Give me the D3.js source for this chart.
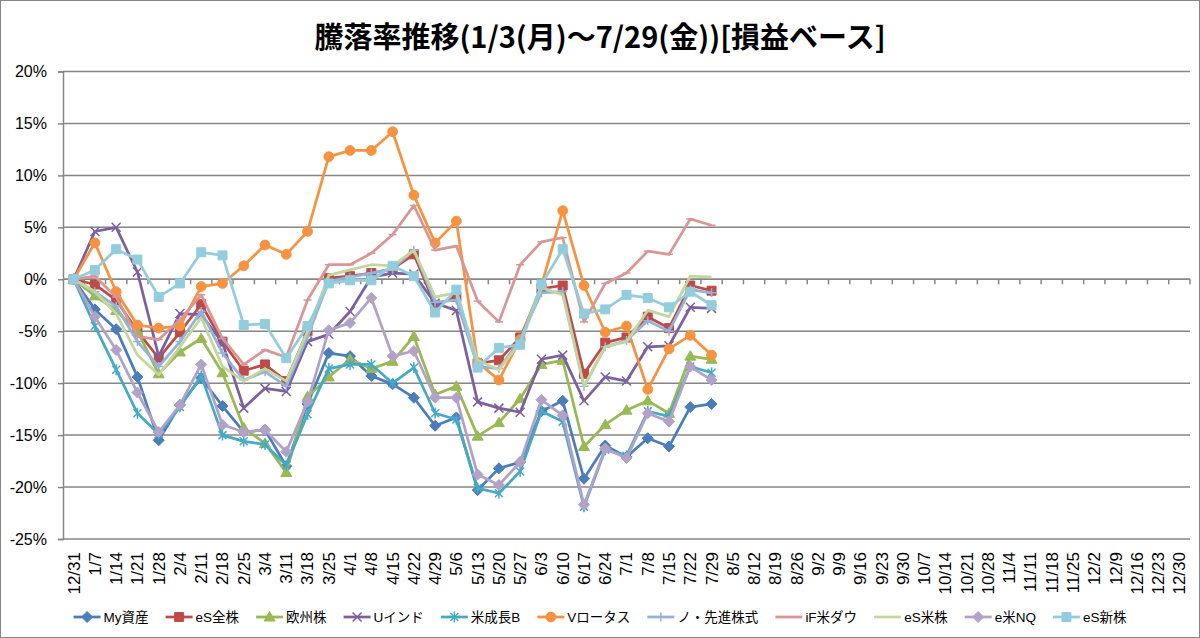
<!doctype html>
<html>

<head>
  <meta charset="utf-8">
  <title>騰落率推移</title>
  <style>
    html, body { margin: 0; padding: 0; background: #fff; }
    #chart { width: 1200px; height: 638px; }
    text { font-family: 'Liberation Sans', 'Noto Sans CJK JP', sans-serif; fill: #000; }
  </style>
</head>

<body>
  <div id="chart"></div>
  <script src="https://cdnjs.cloudflare.com/ajax/libs/d3/7.8.5/d3.min.js"></script>
  <script>
    // 週次の日付ラベル (12/31 ～ 12/30)
    const dates = ['12/31', '1/7', '1/14', '1/21', '1/28', '2/4', '2/11', '2/18', '2/25', '3/4', '3/11',
      '3/18', '3/25', '4/1', '4/8', '4/15', '4/22', '4/29', '5/6', '5/13', '5/20', '5/27', '6/3', '6/10',
      '6/17', '6/24', '7/1', '7/8', '7/15', '7/22', '7/29', '8/5', '8/12', '8/19', '8/26', '9/2', '9/9',
      '9/16', '9/23', '9/30', '10/7', '10/14', '10/21', '10/28', '11/4', '11/11', '11/18', '11/25',
      '12/2', '12/9', '12/16', '12/23', '12/30'];
    const yTicks = [-25, -20, -15, -10, -5, 0, 5, 10, 15, 20];

    // 騰落率 (%) 12/31 ～ 7/29
    const myShisan = [0, -2.9, -4.8, -9.4, -15.5, -12.1, -9.5, -12.2, -14.7, -14.5, -18.0, -12.0, -7.1, -7.4, -9.3,
      -10.1, -11.4, -14.1, -13.3, -20.3, -18.2, -17.6, -12.7, -11.7, -19.2, -16.0, -17.1, -15.3, -16.1, -12.3, -12.0];
    const esZenkabu = [0, -0.5, -2.0, -5.0, -7.6, -5.1, -2.4, -6.0, -8.8, -8.2, -9.8, -5.0, 0.1, 0.3, 0.6,
      1.0, 2.4, -2.5, -1.7, -8.1, -7.8, -5.6, -0.9, -0.6, -9.1, -6.1, -5.6, -3.6, -4.7, -0.6, -1.1];
    const oshuKabu = [0, -1.6, -3.0, -5.0, -9.1, -7.0, -5.7, -9.0, -14.3, -15.8, -18.6, -11.3, -9.4, -7.7, -8.6,
      -7.9, -5.5, -11.1, -10.3, -15.1, -13.8, -11.5, -8.2, -7.8, -16.1, -14.0, -12.6, -11.7, -12.9, -7.4, -7.7];
    const uIndo = [0, 4.6, 5.0, 0.7, -7.4, -3.3, -3.4, -6.1, -12.4, -10.5, -10.8, -6.0, -5.3, -3.1, 0.2,
      0.6, 0.5, -2.3, -3.0, -11.8, -12.4, -12.8, -7.7, -7.3, -11.7, -9.4, -9.8, -6.5, -6.4, -2.7, -2.8];
    const beiSeichoB = [0, -4.5, -8.7, -12.9, -14.9, -12.3, -9.3, -15.0, -15.6, -15.9, -17.9, -13.0, -8.6, -8.2, -8.2,
      -10.0, -8.5, -12.9, -13.5, -20.1, -20.6, -18.5, -12.7, -13.7, -21.9, -16.4, -17.0, -12.7, -13.2, -8.4, -9.0];
    const vLotus = [0, 3.5, -1.2, -4.4, -4.7, -4.5, -0.7, -0.4, 1.3, 3.3, 2.4, 4.6, 11.8, 12.4, 12.4,
      14.2, 8.1, 3.5, 5.6, -8.0, -9.7, -5.8, -0.6, 6.6, -0.6, -5.1, -4.5, -10.6, -6.7, -5.4, -7.3];
    const noSenshin = [0, -1.2, -2.6, -6.0, -8.4, -6.0, -3.1, -7.1, -9.7, -8.9, -10.3, -5.5, -0.2, 0.2, 0.6,
      1.0, 2.8, -2.2, -2.0, -8.4, -8.6, -5.8, -1.3, -1.2, -10.3, -6.5, -5.9, -4.0, -5.0, -1.0, -1.3];
    const ifDow = [0, 0.3, -1.7, -5.5, -5.8, -3.9, -1.5, -5.7, -8.2, -6.8, -7.5, -2.0, 1.4, 1.4, 2.5,
      4.3, 7.1, 2.8, 3.2, -2.1, -4.1, 1.4, 3.6, 4.0, -4.1, -0.4, 0.6, 2.7, 2.4, 5.8, 5.2];
    const esBeikabu = [0, -1.2, -3.3, -7.3, -9.2, -6.5, -3.7, -8.4, -9.8, -8.6, -9.8, -5.0, 0.4, 0.9, 1.4,
      1.3, 2.8, -1.7, -1.3, -7.8, -8.7, -6.1, -0.8, -1.5, -10.3, -6.5, -6.0, -3.0, -3.6, 0.3, 0.2];
    const eBeiNQ = [0, -3.6, -6.8, -10.9, -14.7, -12.1, -8.2, -14.0, -14.7, -14.5, -16.6, -11.8, -4.9, -4.2, -1.8,
      -7.4, -6.9, -11.4, -11.4, -18.8, -19.8, -17.6, -11.6, -13.1, -21.7, -16.3, -17.2, -12.9, -13.7, -8.4, -9.7];
    const esShinkabu = [0, 0.9, 2.9, 1.9, -1.7, -0.4, 2.6, 2.3, -4.4, -4.3, -7.6, -4.5, -0.4, -0.1, -0.1,
      1.3, 0.3, -3.2, -1.0, -8.5, -6.6, -6.3, -0.5, 2.9, -3.3, -2.9, -1.5, -1.8, -2.7, -1.2, -2.5];

    const seriesNames = ['My資産', 'eS全株', '欧州株', 'Uインド', '米成長B', 'Vロータス', 'ノ・先進株式', 'iF米ダウ', 'eS米株', 'e米NQ', 'eS新株'];
    const seriesValues = [myShisan, esZenkabu, oshuKabu, uIndo, beiSeichoB, vLotus, noSenshin, ifDow, esBeikabu, eBeiNQ, esShinkabu];
    const seriesColors = ['#4A7EBB', '#BE4B48', '#98B954', '#7D60A0', '#46AAC5', '#F69240', '#95B3D7', '#D99694', '#C3D69B', '#B3A2C7', '#93CDDD'];
    const seriesMarkers = ['diamond', 'square', 'triangle', 'x', 'star', 'circle', 'plus', 'dash', 'none', 'diamond', 'square'];

    const width = 1200;
    const height = 638;
    const plot = { left: 63, top: 71.5, right: 1190, bottom: 539 };

    const svg = d3.select('#chart').append('svg')
      .attr('width', width)
      .attr('height', height);

    // 外枠
    svg.append('rect')
      .attr('x', 0.5).attr('y', 0.5)
      .attr('width', width - 1).attr('height', height - 1)
      .attr('fill', '#fff').attr('stroke', '#868686');

    const x = d3.scaleBand().domain(dates).range([plot.left, plot.right]).padding(0);
    const y = d3.scaleLinear().domain([-25, 20]).range([plot.bottom, plot.top]);
    const cx = d => x(d) + x.bandwidth() / 2;

    // 目盛線
    svg.append('g').selectAll('line')
      .data(yTicks)
      .join('line')
      .attr('x1', plot.left).attr('x2', plot.right)
      .attr('y1', d => y(d)).attr('y2', d => y(d))
      .attr('stroke', '#868686').attr('stroke-width', 1.5);

    // 縦軸
    const yAxis = svg.append('g')
      .attr('transform', `translate(${plot.left},0)`)
      .call(d3.axisLeft(y).tickValues(yTicks).tickSize(5).tickPadding(11).tickFormat(d => d + '%'));
    yAxis.select('.domain').attr('stroke', '#868686').attr('stroke-width', 1.5);
    yAxis.selectAll('.tick line').attr('stroke', '#868686').attr('stroke-width', 1.5);
    yAxis.selectAll('text').style('font-size', '16px').attr('fill', '#000');

    // 横軸 (0%の位置) と目盛
    const zeroY = y(0);
    svg.append('line')
      .attr('x1', plot.left).attr('x2', plot.right)
      .attr('y1', zeroY).attr('y2', zeroY)
      .attr('stroke', '#868686').attr('stroke-width', 1.5);
    svg.append('g').selectAll('line')
      .data(dates.slice(1).concat(['end']))
      .join('line')
      .attr('x1', d => d === 'end' ? plot.right : x(d))
      .attr('x2', d => d === 'end' ? plot.right : x(d))
      .attr('y1', zeroY).attr('y2', zeroY + 5)
      .attr('stroke', '#868686').attr('stroke-width', 1.5);

    // 日付ラベル (下端)
    const xAxis = svg.append('g')
      .attr('transform', `translate(0,${plot.bottom})`)
      .call(d3.axisBottom(x).tickSize(0).tickPadding(0));
    xAxis.select('.domain').remove();
    xAxis.selectAll('text')
      .style('font-size', '17px')
      .attr('fill', '#000')
      .attr('text-anchor', 'end')
      .attr('x', 0).attr('y', 0).attr('dy', '0.35em')
      .attr('transform', 'translate(0,13) rotate(-90)');

    // マーカー形状
    const markerPath = type => {
      switch (type) {
        case 'diamond': return 'M0,-5.5L5.5,0L0,5.5L-5.5,0Z';
        case 'square': return 'M-4.5,-4.5H4.5V4.5H-4.5Z';
        case 'triangle': return 'M0,-5.5L5.5,4L-5.5,4Z';
        case 'circle': return d3.symbol(d3.symbolCircle, 75)();
        case 'x': return 'M-4.5,-4.5L4.5,4.5M-4.5,4.5L4.5,-4.5';
        case 'star': return 'M-4,-4L4,4M-4,4L4,-4M0,-5.5V5.5';
        case 'plus': return 'M-4.5,0H4.5M0,-4.5V4.5';
        case 'dash': return 'M-4,0H4';
        default: return '';
      }
    };
    const filled = type => ['diamond', 'square', 'triangle', 'circle'].includes(type);

    const line = d3.line()
      .x((d, i) => cx(dates[i]))
      .y(d => y(d));

    const drawMarker = (sel, type, color) => {
      sel.attr('d', markerPath(type))
        .attr('fill', filled(type) ? color : 'none')
        .attr('stroke', color)
        .attr('stroke-width', filled(type) ? 1 : 1.5);
    };

    // 系列
    seriesValues.forEach((values, s) => {
      const color = seriesColors[s];
      const type = seriesMarkers[s];
      const g = svg.append('g');
      g.append('path')
        .datum(values)
        .attr('d', line)
        .attr('fill', 'none')
        .attr('stroke', color)
        .attr('stroke-width', 2.75)
        .attr('stroke-linejoin', 'round');
      if (type !== 'none') {
        g.selectAll('path.m')
          .data(values)
          .join('path')
          .attr('class', 'm')
          .attr('transform', (d, i) => `translate(${cx(dates[i])},${y(d)})`)
          .call(drawMarker, type, color);
      }
    });

    // タイトル
    svg.append('text')
      .attr('x', width / 2)
      .attr('y', 48)
      .attr('text-anchor', 'middle')
      .style('font-family', "'Noto Sans CJK JP', sans-serif")
      .style('font-size', '29px')
      .style('font-weight', 'bold')
      .text('騰落率推移(1/3(月)～7/29(金))[損益ベース]');

    // 凡例
    const legendY = 617;
    const legend = svg.append('g');
    const items = legend.selectAll('g')
      .data(seriesNames)
      .join('g');
    items.append('text')
      .attr('x', 30)
      .attr('y', legendY)
      .attr('dy', '0.35em')
      .style('font-size', '13.5px')
      .text(d => d);
    let offset = 0;
    items.each(function (d, s) {
      const item = d3.select(this);
      const w = item.select('text').node().getComputedTextLength();
      item.attr('transform', `translate(${offset},0)`);
      item.append('line')
        .attr('x1', 0).attr('x2', 27)
        .attr('y1', legendY).attr('y2', legendY)
        .attr('stroke', seriesColors[s]).attr('stroke-width', 2.75);
      if (seriesMarkers[s] !== 'none' && seriesMarkers[s] !== 'dash') {
        item.append('path')
          .attr('transform', `translate(13.5,${legendY})`)
          .call(drawMarker, seriesMarkers[s], seriesColors[s]);
      }
      offset += 30 + w + 17;
    });
    const total = offset - 17;
    legend.attr('transform', `translate(${(width - total) / 2},0)`);
  </script>
</body>

</html>
